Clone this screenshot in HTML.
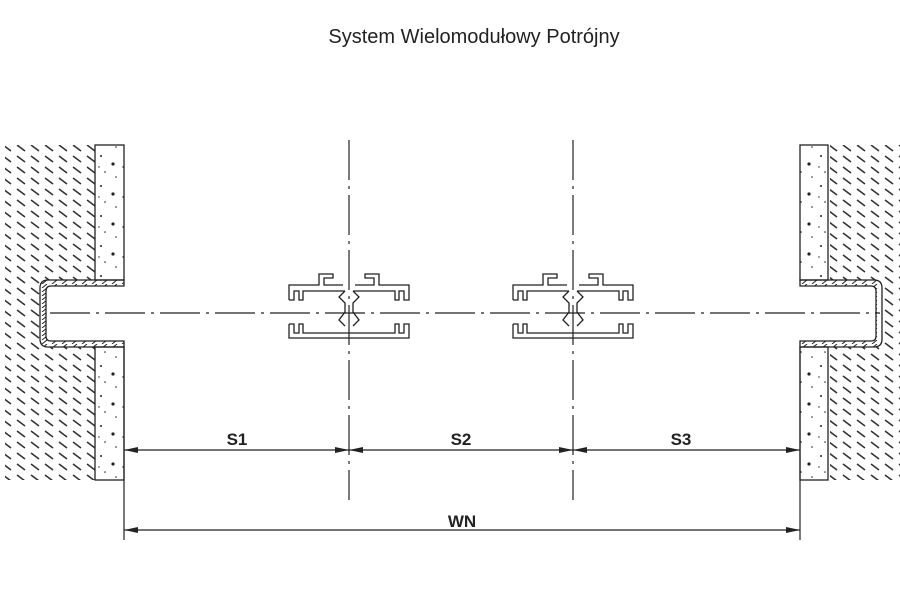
<!DOCTYPE html>
<html><head><meta charset="utf-8"><style>
body{margin:0;background:#fff;width:900px;height:600px;overflow:hidden}
</style></head><body>
<svg width="900" height="600" viewBox="0 0 900 600" xmlns="http://www.w3.org/2000/svg">
<defs>
<pattern id="h" width="14" height="11" patternUnits="userSpaceOnUse">
<line x1="3" y1="2" x2="11" y2="8" stroke="#333" stroke-width="1.6"/>
</pattern>
<pattern id="c" width="24" height="30" patternUnits="userSpaceOnUse">
<circle cx="5" cy="6" r="1" fill="#222"/><circle cx="17" cy="14" r="1.6" fill="#222"/><circle cx="9" cy="22" r="0.8" fill="#222"/><circle cx="20" cy="27" r="0.8" fill="#222"/><circle cx="3" cy="17" r="0.7" fill="#222"/>
</pattern>
<pattern id="s" width="10" height="4" patternUnits="userSpaceOnUse">
<line x1="2" y1="4" x2="7" y2="0" stroke="#222" stroke-width="1"/>
</pattern>
<g id="prof" fill="none" stroke="#222" stroke-width="1.3">
<path d="M-60,300 V285 H-30 V274 H-16 V278 H-25 V285 H-6 M6,285 H25 V278 H16 V274 H30 V285 H60 V300 H55 V291 H50 V300 H46 V291 H4 M-4,291 H-46 V300 H-50 V291 H-55 V300 H-60"/>
<path d="M-4,291 L-10,297 L-4,303 V312 L-10,320 L-4,326 M4,291 L10,297 L4,303 V312 L10,320 L4,326"/>
<path d="M-60,324 V338 H60 V324 H55 V333 H50 V324 H46 V333 H-46 V324 H-50 V333 H-55 V324 H-60"/>
</g>
</defs>
<text x="474" y="43" text-anchor="middle" font-family="Liberation Sans, sans-serif" font-size="20" fill="#222">System Wielomodułowy Potrójny</text>
<rect x="5" y="145" width="90" height="335" fill="url(#h)"/>
<rect x="40" y="280" width="84" height="67" fill="#fff"/>
<rect x="95" y="145" width="29" height="135" fill="url(#c)" stroke="#222" stroke-width="1.3"/>
<rect x="95" y="347" width="29" height="133" fill="url(#c)" stroke="#222" stroke-width="1.3"/>
<path d="M124,280 H48 Q40,280 40,288 V339 Q40,347 48,347 H124 V341 H51 Q46,341 46,336 V291 Q46,286 51,286 H124 Z" fill="url(#s)" stroke="#222" stroke-width="1.3"/>
<rect x="830" y="145" width="70" height="335" fill="url(#h)"/>
<rect x="800" y="280" width="84" height="67" fill="#fff"/>
<rect x="800" y="145" width="28" height="135" fill="url(#c)" stroke="#222" stroke-width="1.3"/>
<rect x="800" y="347" width="28" height="133" fill="url(#c)" stroke="#222" stroke-width="1.3"/>
<path d="M800,280 H874 Q882,280 882,288 V339 Q882,347 874,347 H800 V341 H871 Q876,341 876,336 V291 Q876,286 871,286 H800 Z" fill="url(#s)" stroke="#222" stroke-width="1.3"/>
<g stroke="#222" stroke-width="1.2" stroke-dasharray="40,6,3,6">
<line x1="50" y1="313" x2="880" y2="313"/>
<line x1="349" y1="140" x2="349" y2="500"/>
<line x1="573" y1="140" x2="573" y2="500"/>
</g>
<use href="#prof" x="349"/>
<use href="#prof" x="573"/>
<g stroke="#222" stroke-width="1.2">
<line x1="124" y1="347" x2="124" y2="540"/>
<line x1="800" y1="347" x2="800" y2="540"/>
<line x1="124" y1="450" x2="800" y2="450"/>
<line x1="124" y1="530" x2="800" y2="530"/>
</g>
<g fill="#222">
<path d="M124,450 l14,-3 v6z"/><path d="M349,450 l-14,-3 v6z"/><path d="M349,450 l14,-3 v6z"/>
<path d="M573,450 l-14,-3 v6z"/><path d="M573,450 l14,-3 v6z"/><path d="M800,450 l-14,-3 v6z"/>
<path d="M124,530 l14,-3 v6z"/><path d="M800,530 l-14,-3 v6z"/>
</g>
<g font-family="Liberation Sans, sans-serif" font-size="17" font-weight="bold" fill="#222" text-anchor="middle">
<text x="237" y="445">S1</text><text x="461" y="445">S2</text><text x="681" y="445">S3</text><text x="462" y="527">WN</text>
</g>
</svg>
</body></html>
